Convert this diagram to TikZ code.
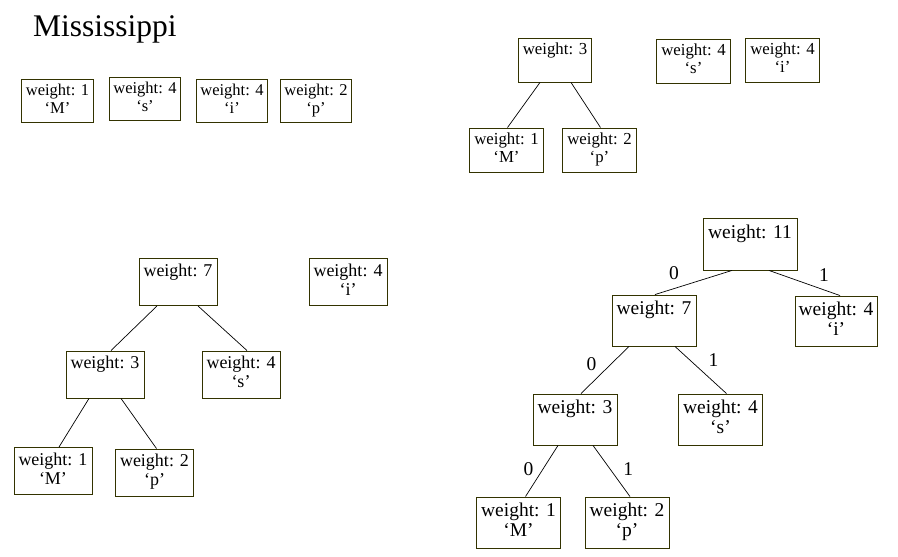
\documentclass[tikz,border=0pt]{standalone}
\usepackage{fontspec}
\setmainfont{Liberation Serif}
\usetikzlibrary{positioning}
\definecolor{boxline}{RGB}{51,51,0}

\begin{document}
\begin{tikzpicture}[x=1pt, y=-1pt, on grid,
  tree node/.style={draw=boxline, line width=0.9pt, rectangle, align=center, inner sep=2pt},
  first node/.style={tree node, minimum width=71.5pt, minimum height=43pt, font=\fontsize{16.5}{18}\selectfont},
  second node/.style={tree node, minimum width=73.5pt, minimum height=44pt, font=\fontsize{16.8}{17.5}\selectfont},
  third node/.style={tree node, minimum width=78pt, minimum height=47pt, font=\fontsize{18}{19}\selectfont},
  fourth node/.style={tree node, minimum width=84pt, minimum height=51pt, font=\fontsize{19.5}{20}\selectfont},
  branch/.style={draw=black, line width=0.7pt},
  bit/.style={inner sep=0pt, font=\fontsize{19.5}{20}\selectfont}]
\useasboundingbox (0,0) rectangle (898,557);

\node[anchor=base west, inner sep=0pt, font=\fontsize{31.5}{36}\selectfont] (word) at (33,36) {Mississippi};

% the four letters
\node[first node] (am) at (57.5,100.5) {\strut weight: 1\\\strut ‘M’};
\node[first node, above right=2pt and 87.5pt of am] (as) {\strut weight: 4\\\strut ‘s’};
\node[first node, below right=2pt and 87pt of as] (ai) {\strut weight: 4\\\strut ‘i’};
\node[first node, right=84pt of ai] (ap) {\strut weight: 2\\\strut ‘p’};

% M and p joined
\node[second node] (b3) at (555,60) {\strut weight: 3\\\strut};
\node[second node, below left=90pt and 48.5pt of b3] (bm) {\strut weight: 1\\\strut ‘M’};
\node[second node, below right=90pt and 44.5pt of b3] (bp) {\strut weight: 2\\\strut ‘p’};
\node[second node, below right=1pt and 138.5pt of b3] (bs) {\strut weight: 4\\\strut ‘s’};
\node[second node, above right=1pt and 89pt of bs] (bi) {\strut weight: 4\\\strut ‘i’};
\path[branch]
([xshift=-15pt]b3.south) edge ([xshift=1pt]bm.north)
([xshift=16pt]b3.south) edge ([xshift=1pt]bp.north);

% s added
\node[third node] (c7) at (178,282) {\strut weight: 7\\\strut};
\node[third node, below left=92.5pt and 73pt of c7] (c3) {\strut weight: 3\\\strut};
\node[third node, below right=92.5pt and 63pt of c7] (cs) {\strut weight: 4\\\strut ‘s’};
\node[third node, right=170pt of c7] (ci) {\strut weight: 4\\\strut ‘i’};
\node[third node, below left=96.5pt and 52pt of c3] (cm) {\strut weight: 1\\\strut ‘M’};
\node[third node, below right=98pt and 49.5pt of c3] (cp) {\strut weight: 2\\\strut ‘p’};
\path[branch]
([xshift=-21pt]c7.south) edge ([xshift=6pt]c3.north)
([xshift=20pt]c7.south) edge ([xshift=6pt]cs.north)
([xshift=-16pt]c3.south) edge ([xshift=6pt]cm.north)
([xshift=16pt]c3.south) edge ([xshift=2pt]cp.north);

% whole tree with codes
\node[fourth node, minimum width=94pt, minimum height=52pt] (d11) at (750,244) {\strut weight: 11\\\strut};
\node[fourth node, below left=76.5pt and 96pt of d11] (d7) {\strut weight: 7\\\strut};
\node[fourth node, below right=77pt and 86pt of d11, minimum width=82pt, minimum height=50pt] (di) {\strut weight: 4\\\strut ‘i’};
\node[fourth node, below left=99pt and 79pt of d7] (d3) {\strut weight: 3\\\strut};
\node[fourth node, below right=99pt and 66.5pt of d7] (ds) {\strut weight: 4\\\strut ‘s’};
\node[fourth node, below left=103pt and 56.5pt of d3] (dm) {\strut weight: 1\\\strut ‘M’};
\node[fourth node, below right=103pt and 52pt of d3] (dp) {\strut weight: 2\\\strut ‘p’};
\draw[branch] ([xshift=-18pt]d11.south) -- node[bit, xshift=-19.5pt, yshift=9pt] {0} ([xshift=1pt]d7.north);
\draw[branch] ([xshift=19pt]d11.south) -- node[bit, xshift=19.5pt, yshift=8pt] {1} ([xshift=4pt]di.north);
\draw[branch] ([xshift=-25pt]d7.south) -- node[bit, xshift=-13.5pt, yshift=6pt] {0} ([xshift=6pt]d3.north);
\draw[branch] ([xshift=21pt]d7.south) -- node[bit, xshift=12.7pt, yshift=10pt] {1} ([xshift=6pt]ds.north);
\draw[branch] ([xshift=-17pt]d3.south) -- node[bit, xshift=-13.2pt, yshift=1.7pt] {0} ([xshift=7pt]dm.north);
\draw[branch] ([xshift=18pt]d3.south) -- node[bit, xshift=16.8pt, yshift=1.7pt] {1} ([xshift=3pt]dp.north);
\end{tikzpicture}
\end{document}
